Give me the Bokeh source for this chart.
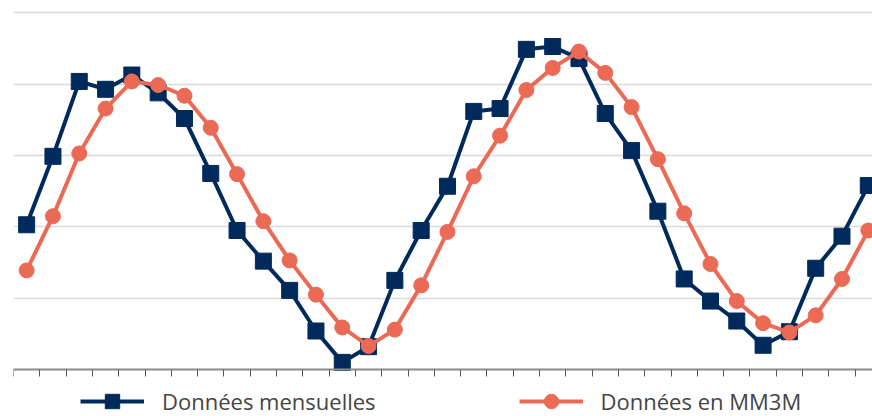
from bokeh.plotting import figure
from bokeh.models import Range1d, FixedTicker, Legend, LegendItem
from bokeh.embed import file_html
from bokeh.resources import INLINE

# --- data ---
mois = list(range(1, 34))
mensuelles = [2.03, 2.99, 4.04, 3.93, 4.13, 3.88, 3.52, 2.75, 1.95, 1.52, 1.11,
              0.54, 0.10, 0.32, 1.25, 1.95, 2.57, 3.62, 3.66, 4.49, 4.53, 4.36,
              3.59, 3.07, 2.22, 1.27, 0.96, 0.68, 0.34, 0.53, 1.42, 1.87, 2.58]
mm3m = [1.39, 2.15, 3.03, 3.66, 4.04, 3.99, 3.84, 3.39, 2.74, 2.08, 1.53,
        1.05, 0.59, 0.33, 0.56, 1.18, 1.93, 2.71, 3.28, 3.92, 4.23, 4.46,
        4.16, 3.68, 2.95, 2.19, 1.48, 0.96, 0.65, 0.52, 0.76, 1.27, 1.95]
niveaux = [0, 1, 2, 3, 4, 5]
labels = ["Données mensuelles", "Données en MM3M"]

NAVY = "#002A5C"
ORANGE = "#EB6A55"

x = [m - 0.5 for m in mois]

p = figure(width=872, height=416, output_backend="svg", toolbar_location=None,
           x_range=Range1d(0, 32.66), y_range=Range1d(-0.659, 5.035),
           min_border_left=13, min_border_right=0, min_border_top=10,
           min_border_bottom=0)
p.outline_line_color = None
p.background_fill_color = "white"
p.border_fill_color = "white"

# axes
p.yaxis.visible = False
p.xgrid.visible = False
p.ygrid.ticker = FixedTicker(ticks=niveaux)
p.ygrid.grid_line_color = "#d9d9d9"
p.ygrid.grid_line_width = 1.5

xa = p.xaxis[0]
xa.fixed_location = 0
xa.ticker = FixedTicker(ticks=[m - 1 for m in mois] + [mois[-1]])
xa.major_tick_in = 0
xa.major_tick_out = 7
xa.minor_tick_line_color = None
xa.major_tick_line_color = "#595959"
xa.major_tick_line_width = 1
xa.axis_line_color = "#8c8c8c"
xa.axis_line_width = 2
xa.major_label_text_font_size = "0px"
xa.major_label_text_alpha = 0
xa.major_label_standoff = 0

# series
l1 = p.line(x, mensuelles, line_color=NAVY, line_width=4)
s1 = p.scatter(x, mensuelles, marker="square", size=16, color=NAVY)
l2 = p.line(x, mm3m, line_color=ORANGE, line_width=4)
s2 = p.scatter(x, mm3m, marker="circle", size=15, color=ORANGE)

legend = Legend(items=[LegendItem(label=labels[0], renderers=[l1, s1]),
                       LegendItem(label=labels[1], renderers=[l2, s2])],
                orientation="horizontal", location=(67, -3),
                glyph_width=64, glyph_height=36, label_standoff=18, spacing=143,
                padding=0, margin=0, border_line_color=None,
                background_fill_alpha=0,
                label_text_font="Open Sans", label_text_font_size="22px",
                label_text_color="#444444")
p.add_layout(legend, "center")

open("out.html", "w").write(file_html(p, INLINE))
